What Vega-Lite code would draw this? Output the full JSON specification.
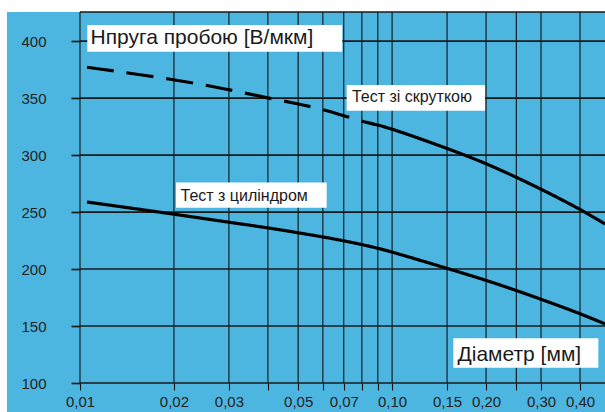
{
  "$schema": "https://vega.github.io/schema/vega-lite/v6.json",
  "width": 525,
  "height": 371,
  "autosize": "none",
  "padding": {"left": 80, "top": 12, "right": 0, "bottom": 29},
  "background": "white",
  "config": {"view": {"stroke": null}, "font": "Liberation Sans"},
  "datasets": {
    "xgrid": [{"d": 0.01}, {"d": 0.02}, {"d": 0.03}, {"d": 0.04}, {"d": 0.05}, {"d": 0.06}, {"d": 0.07}, {"d": 0.08}, {"d": 0.09}, {"d": 0.1}, {"d": 0.15}, {"d": 0.2}, {"d": 0.25}, {"d": 0.3}, {"d": 0.4}],
    "ygrid": [{"v": 100}, {"v": 150}, {"v": 200}, {"v": 250}, {"v": 300}, {"v": 350}, {"v": 400}, {"v": 425.5}],
    "curves": [
      {"id": "twist-a", "style": "dash", "d": 0.01053, "v": 377},
      {"id": "twist-a", "style": "dash", "d": 0.02, "v": 366.5},
      {"id": "twist-a", "style": "dash", "d": 0.03, "v": 357.5},
      {"id": "twist-a", "style": "dash", "d": 0.04, "v": 350},
      {"id": "twist-a", "style": "dash", "d": 0.05, "v": 345},
      {"id": "twist-a", "style": "dash", "d": 0.06, "v": 340},
      {"id": "twist-a", "style": "dash", "d": 0.07, "v": 334.5},
      {"id": "twist-a", "style": "dash", "d": 0.0813, "v": 329.2},
      {"id": "twist-b", "style": "solid", "d": 0.0813, "v": 329.2},
      {"id": "twist-b", "style": "solid", "d": 0.09, "v": 326.3},
      {"id": "twist-b", "style": "solid", "d": 0.1, "v": 323},
      {"id": "twist-b", "style": "solid", "d": 0.15, "v": 306},
      {"id": "twist-b", "style": "solid", "d": 0.2, "v": 292.7},
      {"id": "twist-b", "style": "solid", "d": 0.25, "v": 280.5},
      {"id": "twist-b", "style": "solid", "d": 0.3, "v": 270.2},
      {"id": "twist-b", "style": "solid", "d": 0.4, "v": 252.6},
      {"id": "twist-b", "style": "solid", "d": 0.481, "v": 239.5},
      {"id": "cyl", "style": "solid", "d": 0.01053, "v": 258.8},
      {"id": "cyl", "style": "solid", "d": 0.02, "v": 248.2},
      {"id": "cyl", "style": "solid", "d": 0.03, "v": 241},
      {"id": "cyl", "style": "solid", "d": 0.04, "v": 236.2},
      {"id": "cyl", "style": "solid", "d": 0.05, "v": 231.8},
      {"id": "cyl", "style": "solid", "d": 0.06, "v": 228.2},
      {"id": "cyl", "style": "solid", "d": 0.07, "v": 224.8},
      {"id": "cyl", "style": "solid", "d": 0.08, "v": 221.5},
      {"id": "cyl", "style": "solid", "d": 0.09, "v": 218.2},
      {"id": "cyl", "style": "solid", "d": 0.1, "v": 215},
      {"id": "cyl", "style": "solid", "d": 0.15, "v": 200.6},
      {"id": "cyl", "style": "solid", "d": 0.2, "v": 190.2},
      {"id": "cyl", "style": "solid", "d": 0.25, "v": 181.2},
      {"id": "cyl", "style": "solid", "d": 0.3, "v": 173.5},
      {"id": "cyl", "style": "solid", "d": 0.4, "v": 161},
      {"id": "cyl", "style": "solid", "d": 0.481, "v": 151.8}
    ],
    "labels": [
      {"role": "big", "label": "Нпруга пробою [В/мкм]", "x1": 0.010554, "x2": 0.06924, "y1": 414.0, "y2": 390.6, "tx": 0.010805, "ty": 397.1},
      {"role": "small", "label": "Тест зі скруткою", "x1": 0.07152, "x2": 0.1985, "y1": 361.4, "y2": 338.85, "tx": 0.07437, "ty": 346.75},
      {"role": "small", "label": "Тест з циліндром", "x1": 0.0203, "x2": 0.06172, "y1": 276.0, "y2": 253.75, "tx": 0.02099, "ty": 259.6},
      {"role": "big", "label": "Діаметр [мм]", "x1": 0.1571, "x2": 0.4579, "y1": 139.17, "y2": 113.37, "tx": 0.162, "ty": 119.7}
    ]
  },
  "layer": [
    {
      "data": {"values": [{}]},
      "mark": {"type": "rect", "color": "#4db6e0"},
      "encoding": {
        "x": {
          "datum": 0.005834, "type": "quantitative", "title": null,
          "scale": {"type": "log", "domain": [0.01, 0.481], "nice": false},
          "axis": {
            "values": [0.01, 0.02, 0.03, 0.04, 0.05, 0.06, 0.07, 0.08, 0.09, 0.1, 0.15, 0.2, 0.25, 0.3, 0.4],
            "labelExpr": "indexof([0.01, 0.02, 0.03, 0.05, 0.07, 0.1, 0.15, 0.2, 0.3, 0.4], datum.value) >= 0 ? replace(format(datum.value, '.2f'), '.', ',') : ''",
            "grid": false, "domain": false, "ticks": true, "tickSize": 7, "tickColor": "#111111", "tickWidth": 1.1,
            "labels": true, "labelFontSize": 15, "labelColor": "#222222", "labelPadding": 4, "labelOverlap": false, "labelFlush": false,
            "title": null, "zindex": 1, "labelFont": "Liberation Sans"
          }
        },
        "x2": {"datum": 0.481},
        "y": {
          "datum": 425.5, "type": "quantitative", "title": null,
          "scale": {"domain": [100, 425.5], "nice": false, "zero": false},
          "axis": {
            "values": [100, 150, 200, 250, 300, 350, 400],
            "grid": false, "domain": false, "ticks": true, "tickSize": 9, "tickColor": "#1a1a1a", "tickWidth": 1.7,
            "labels": true, "labelFontSize": 15, "labelColor": "#222222", "labelPadding": 25,
            "title": null, "zindex": 1, "labelFont": "Liberation Sans"
          }
        },
        "y2": {"datum": 74}
      }
    },
    {
      "data": {"name": "xgrid"},
      "mark": {"type": "rule", "color": "#111111", "strokeWidth": 1.1},
      "encoding": {
        "x": {"field": "d", "type": "quantitative", "title": null}
      }
    },
    {
      "data": {"name": "ygrid"},
      "mark": {"type": "rule", "color": "#1a1a1a", "strokeWidth": 1.7},
      "encoding": {
        "y": {"field": "v", "type": "quantitative", "title": null}
      }
    },
    {
      "data": {"name": "curves"},
      "mark": {"type": "line", "color": "#000000", "strokeWidth": 3.2, "interpolate": "basis"},
      "encoding": {
        "x": {"field": "d", "type": "quantitative", "title": null},
        "y": {"field": "v", "type": "quantitative", "title": null},
        "detail": {"field": "id"},
        "strokeDash": {"field": "style", "type": "nominal", "scale": {"domain": ["dash", "solid"], "range": [[27, 13], [1, 0]]}, "legend": null}
      }
    },
    {
      "data": {"name": "labels"},
      "mark": {"type": "rect", "color": "#ffffff"},
      "encoding": {
        "x": {"field": "x1", "type": "quantitative", "title": null},
        "x2": {"field": "x2"},
        "y": {"field": "y1", "type": "quantitative", "title": null},
        "y2": {"field": "y2"}
      }
    },
    {
      "data": {"name": "labels"},
      "transform": [{"filter": "datum.role === 'big'"}],
      "mark": {"type": "text", "align": "left", "baseline": "alphabetic", "fontSize": 21, "color": "#1a1a1a", "font": "Liberation Sans"},
      "encoding": {
        "x": {"field": "tx", "type": "quantitative", "title": null},
        "y": {"field": "ty", "type": "quantitative", "title": null},
        "text": {"field": "label"}
      }
    },
    {
      "data": {"name": "labels"},
      "transform": [{"filter": "datum.role === 'small'"}],
      "mark": {"type": "text", "align": "left", "baseline": "alphabetic", "fontSize": 16, "color": "#1a1a1a", "font": "Liberation Sans"},
      "encoding": {
        "x": {"field": "tx", "type": "quantitative", "title": null},
        "y": {"field": "ty", "type": "quantitative", "title": null},
        "text": {"field": "label"}
      }
    }
  ]
}
